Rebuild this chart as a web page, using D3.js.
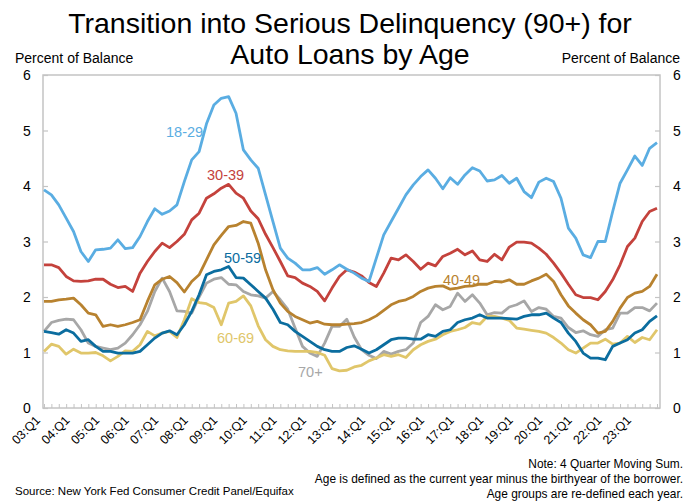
<!DOCTYPE html>
<html><head><meta charset="utf-8">
<script src="https://cdn.jsdelivr.net/npm/d3@7"></script>
<style>
html,body{margin:0;padding:0;background:#fff;}
svg{display:block;font-family:"Liberation Sans",Arial,sans-serif;}
</style></head>
<body><svg id="c" width="700" height="502"></svg>
<script>
// Quarters 03:Q1 .. 23:Q4
const years = d3.range(3, 24);
const quarters = years.flatMap(yy => [1,2,3,4].map(q => String(yy).padStart(2,"0") + ":Q" + q));
const tickLabels = years.map(yy => String(yy).padStart(2,"0") + ":Q1");
const yTicks = [0,1,2,3,4,5,6];

const s18_29 = [3.93,3.84,3.66,3.42,3.18,2.82,2.64,2.85,2.86,2.88,3.03,2.87,2.89,3.09,3.36,3.59,3.49,3.55,3.66,4.08,4.47,4.62,
  5.12,5.46,5.58,5.61,5.31,4.65,4.47,4.32,3.84,3.36,2.88,2.70,2.61,2.49,2.49,2.53,2.41,2.49,2.58,2.50,2.43,
  2.34,2.28,2.70,3.12,3.36,3.60,3.84,4.02,4.17,4.29,4.14,3.95,4.15,4.03,4.20,4.33,4.27,4.09,4.11,4.19,4.05,
  4.14,3.90,3.79,4.07,4.14,4.08,3.78,3.24,3.06,2.76,2.71,3.00,3.00,3.54,4.05,4.29,4.54,4.37,4.68,4.78];
const s30_39 = [2.58,2.58,2.53,2.37,2.29,2.28,2.29,2.32,2.32,2.23,2.17,2.19,2.10,2.43,2.64,2.82,2.97,2.89,3.00,3.13,3.39,3.51,
  3.78,3.86,3.96,4.03,3.87,3.78,3.55,3.41,3.13,2.89,2.64,2.38,2.35,2.25,2.19,2.10,1.93,2.16,2.37,2.49,2.45,
  2.38,2.26,2.19,2.43,2.70,2.67,2.76,2.64,2.50,2.61,2.56,2.73,2.79,2.86,2.76,2.83,2.67,2.64,2.77,2.67,2.90,
  2.99,2.99,2.97,2.88,2.77,2.61,2.43,2.23,2.04,1.99,1.99,1.95,2.10,2.31,2.58,2.91,3.06,3.36,3.54,3.60];
const s40_49 = [1.92,1.92,1.95,1.96,1.98,1.86,1.71,1.68,1.47,1.50,1.47,1.50,1.54,1.59,1.92,2.22,2.32,2.37,2.26,2.09,2.28,2.40,
  2.67,2.94,3.11,3.27,3.29,3.36,3.33,2.97,2.49,2.13,1.89,1.74,1.65,1.59,1.53,1.56,1.51,1.50,1.50,1.51,1.52,
  1.54,1.59,1.66,1.76,1.86,1.92,1.95,2.01,2.10,2.16,2.19,2.20,2.14,2.16,2.19,2.20,2.23,2.23,2.28,2.27,2.31,
  2.23,2.23,2.29,2.34,2.41,2.28,2.04,1.84,1.71,1.59,1.50,1.35,1.38,1.56,1.80,1.99,2.07,2.10,2.19,2.41];
const s50_59 = [1.38,1.36,1.33,1.41,1.35,1.20,1.23,1.11,1.02,1.02,0.99,0.99,0.99,1.02,1.14,1.26,1.35,1.39,1.32,1.50,1.74,2.04,
  2.40,2.46,2.49,2.55,2.35,2.34,2.22,2.10,1.98,1.78,1.54,1.50,1.38,1.29,1.20,1.11,1.05,1.02,1.02,1.09,1.12,
  1.06,0.99,1.05,1.14,1.23,1.26,1.26,1.24,1.24,1.32,1.29,1.38,1.41,1.54,1.59,1.62,1.68,1.62,1.62,1.62,1.61,
  1.60,1.65,1.68,1.68,1.71,1.62,1.54,1.35,1.20,0.99,0.90,0.90,0.87,1.11,1.17,1.23,1.35,1.41,1.56,1.66];
const s60_69 = [1.02,1.15,1.11,0.97,1.06,0.99,0.99,1.00,0.94,0.85,0.93,1.03,1.02,1.14,1.38,1.30,1.35,1.38,1.27,1.59,1.97,1.90,
  1.88,1.81,1.50,1.89,1.92,2.02,1.84,1.48,1.23,1.11,1.05,1.03,1.02,1.02,1.02,1.00,0.95,0.71,0.67,0.68,0.74,
  0.77,0.85,0.90,0.96,0.93,0.96,0.91,1.05,1.14,1.20,1.24,1.32,1.38,1.41,1.45,1.54,1.51,1.65,1.65,1.62,1.58,
  1.44,1.42,1.40,1.38,1.35,1.27,1.17,1.05,0.99,1.08,1.17,1.17,1.24,1.15,1.17,1.29,1.18,1.27,1.23,1.41];
const s70p = [1.38,1.54,1.58,1.60,1.59,1.41,1.17,1.11,1.08,1.05,1.08,1.17,1.32,1.50,1.74,2.10,2.34,2.10,1.75,1.74,1.71,2.00,
  2.25,2.32,2.35,2.23,2.22,2.10,2.04,2.02,1.98,2.10,1.95,1.78,1.44,1.11,0.99,0.93,1.17,1.47,1.47,1.60,1.28,
  1.05,0.95,0.89,1.02,0.97,1.02,1.05,1.17,1.54,1.65,1.86,1.77,1.83,2.07,1.92,2.04,1.89,1.68,1.72,1.71,1.82,
  1.86,1.93,1.74,1.81,1.78,1.65,1.62,1.45,1.36,1.39,1.32,1.29,1.41,1.44,1.71,1.71,1.81,1.81,1.75,1.89];

const seriesNames = ["18-29","30-39","40-49","50-59","60-69","70+"];
const seriesValues = [s18_29, s30_39, s40_49, s50_59, s60_69, s70p];

(function(){
const seriesColors = ["#5aade2","#c4423c","#b8822f","#0b6d9f","#e0c66a","#a7a7a7"];
const labelPos = [[166,137],[207,180],[443,285],[224,263],[217,343],[298,377]];
const drawOrder = [5,4,3,2,1,0];

const svg = d3.select("#c");
const mL = 43, mR = 660, mT = 75, mB = 408;

const x = d3.scalePoint().domain(quarters).range([44, 657]);
const y = d3.scaleLinear().domain([0,6]).range([mB, mT]);

// title
svg.append("text").attr("x", 350).attr("y", 33).attr("text-anchor","middle")
  .attr("font-size", 28.5).attr("fill","#000").text("Transition into Serious Delinquency (90+) for");
svg.append("text").attr("x", 350).attr("y", 64).attr("text-anchor","middle")
  .attr("font-size", 28.5).attr("fill","#000").text("Auto Loans by Age");

// axis titles
svg.append("text").attr("x", 15).attr("y", 63).attr("font-size", 14).attr("fill","#000").text("Percent of Balance");
svg.append("text").attr("x", 680).attr("y", 63).attr("text-anchor","end").attr("font-size", 14).attr("fill","#000").text("Percent of Balance");

// frame
const frameColor = "#c4c4c4";
svg.append("rect").attr("x", mL).attr("y", mT).attr("width", mR-mL).attr("height", mB-mT)
  .attr("fill","none").attr("stroke", frameColor).attr("stroke-width", 1.5);

// y axes
const yl = svg.append("g").attr("transform", `translate(${mL},0)`)
  .call(d3.axisRight(y).tickValues(yTicks).tickSize(5).tickFormat(""));
const yr = svg.append("g").attr("transform", `translate(${mR},0)`)
  .call(d3.axisLeft(y).tickValues(yTicks).tickSize(5).tickFormat(""));
[yl, yr].forEach(g => { g.select(".domain").remove(); g.selectAll("line").attr("stroke", frameColor).attr("stroke-width",1.2); });

svg.selectAll("text.yl").data(yTicks).enter().append("text").attr("class","yl")
  .attr("x", 27).attr("y", d => y(d) + 5).attr("text-anchor","middle").attr("font-size", 14).attr("fill","#000").text(d => d);
svg.selectAll("text.yr").data(yTicks).enter().append("text").attr("class","yr")
  .attr("x", 677).attr("y", d => y(d) + 5).attr("text-anchor","middle").attr("font-size", 14).attr("fill","#000").text(d => d);

// x axis ticks (each quarter, inward)
const xa = svg.append("g").attr("transform", `translate(0,${mB})`)
  .call(d3.axisTop(x).tickSize(4).tickFormat(""));
xa.select(".domain").remove();
xa.selectAll("line").attr("stroke", frameColor).attr("stroke-width",1);

// x labels rotated
svg.selectAll("text.xl").data(tickLabels).enter().append("text").attr("class","xl")
  .attr("transform", d => `translate(${x(d)-3},${mB+13}) rotate(-45)`)
  .attr("text-anchor","end").attr("font-size", 12.5).attr("fill","#000").text(d => d);

// lines
const line = d3.line().x((d,i) => x(quarters[i])).y(d => y(d));
drawOrder.forEach(k => {
  svg.append("path").datum(seriesValues[k]).attr("d", line)
    .attr("fill","none").attr("stroke", seriesColors[k]).attr("stroke-width", 2.8)
    .attr("stroke-linejoin","round");
});
seriesNames.forEach((n,k) => {
  svg.append("text").attr("x", labelPos[k][0]).attr("y", labelPos[k][1])
    .attr("font-size", 14.5).attr("fill", seriesColors[k]).text(n);
});

// notes
const notes = ["Note: 4 Quarter Moving Sum.","Age is defined as the current year minus the birthyear of the borrower.","Age groups are re-defined each year."];
notes.forEach((t,i) => svg.append("text").attr("x", 683).attr("y", 468 + i*15).attr("text-anchor","end")
  .attr("font-size", 11.9).attr("fill","#000").text(t));
svg.append("text").attr("x", 15).attr("y", 495).attr("font-size", 11.5).attr("fill","#000")
  .text("Source: New York Fed Consumer Credit Panel/Equifax");
})();
</script></body></html>
